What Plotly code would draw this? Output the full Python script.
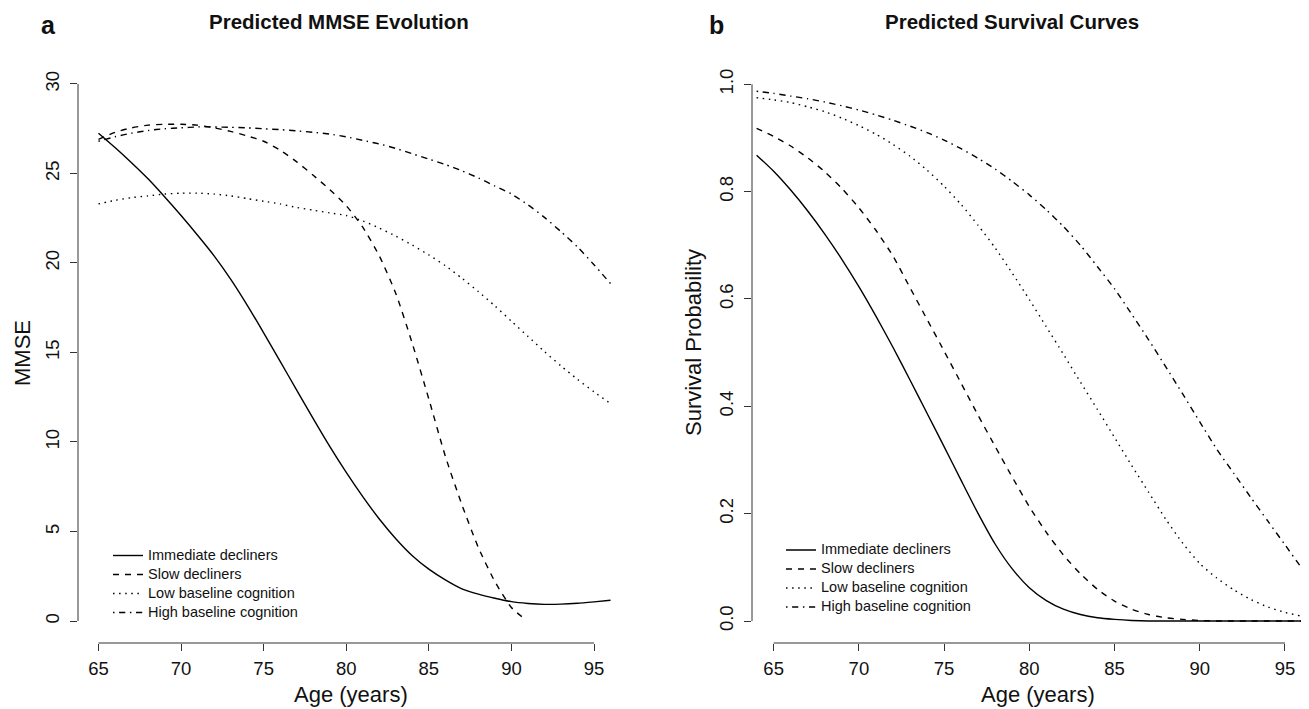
import plotly.graph_objects as go

# The page body has an 8px default margin, so the figure is 8px smaller than the window
OFF = 8
W, H = 1309 - OFF, 709 - OFF
FONT = "Liberation Sans, Arial, Helvetica, sans-serif"

# ---------------- data ----------------
groups = ["Immediate decliners", "Slow decliners", "Low baseline cognition", "High baseline cognition"]

# Panel a: predicted MMSE by age
age_a = list(range(65, 97))
age_a_slow = list(range(65, 91)) + [90.8]
mmse_immediate = [27.25, 26.45, 25.6, 24.7, 23.7, 22.65, 21.55, 20.4, 19.1, 17.65, 16.1, 14.5, 12.9,
                  11.3, 9.75, 8.3, 6.95, 5.7, 4.6, 3.65, 2.9, 2.3, 1.8, 1.5, 1.27, 1.08, 0.98, 0.93,
                  0.94, 0.99, 1.07, 1.16]
mmse_slow = [26.9, 27.3, 27.55, 27.7, 27.75, 27.75, 27.7, 27.55, 27.35, 27.1, 26.8, 26.3, 25.65,
             24.9, 24.1, 23.2, 22.0, 20.4, 18.3, 15.5, 12.4, 9.2, 6.5, 4.1, 2.2, 0.75, 0.12]
mmse_low = [23.3, 23.5, 23.65, 23.75, 23.85, 23.9, 23.9, 23.85, 23.75, 23.6, 23.45, 23.3, 23.1,
            22.95, 22.8, 22.65, 22.35, 21.95, 21.5, 21.0, 20.45, 19.85, 19.15, 18.4, 17.6, 16.75,
            15.9, 15.05, 14.25, 13.5, 12.8, 12.15]
mmse_high = [26.8, 27.05, 27.25, 27.4, 27.5, 27.55, 27.6, 27.6, 27.58, 27.55, 27.5, 27.45, 27.38,
             27.3, 27.2, 27.05, 26.85, 26.65, 26.4, 26.1, 25.8, 25.5, 25.15, 24.75, 24.3, 23.85,
             23.25, 22.55, 21.75, 20.9, 19.9, 18.85]

# Panel b: predicted survival probability by age
age_b = list(range(64, 98))
surv_immediate = [0.868, 0.838, 0.803, 0.764, 0.721, 0.674, 0.623, 0.568, 0.51, 0.449, 0.387, 0.325,
                  0.262, 0.2, 0.143, 0.097, 0.062, 0.038, 0.022, 0.012, 0.006, 0.003, 0.001,
                  0, 0, 0, 0, 0, 0, 0, 0, 0, 0, 0]
surv_slow = [0.918, 0.903, 0.885, 0.863, 0.837, 0.806, 0.77, 0.728, 0.68, 0.621, 0.562, 0.503,
             0.443, 0.383, 0.325, 0.268, 0.213, 0.165, 0.123, 0.088, 0.059, 0.037, 0.022, 0.012,
             0.006, 0.003, 0.001, 0, 0, 0, 0, 0, 0, 0]
surv_low = [0.975, 0.971, 0.966, 0.958, 0.949, 0.937, 0.923, 0.907, 0.888, 0.866, 0.84, 0.81,
            0.776, 0.737, 0.695, 0.648, 0.599, 0.548, 0.497, 0.445, 0.394, 0.342, 0.29, 0.24,
            0.19, 0.145, 0.107, 0.08, 0.058, 0.04, 0.026, 0.016, 0.009, 0.005]
surv_high = [0.987, 0.983, 0.978, 0.973, 0.967, 0.96, 0.952, 0.943, 0.933, 0.922, 0.91, 0.896,
             0.88, 0.862, 0.842, 0.819, 0.794, 0.766, 0.735, 0.70, 0.66, 0.619, 0.572, 0.524,
             0.474, 0.423, 0.371, 0.32, 0.275, 0.23, 0.186, 0.142, 0.098, 0.06]

x_ticks = [65, 70, 75, 80, 85, 90, 95]
y_ticks_a = [0, 5, 10, 15, 20, 25, 30]
y_ticks_b = [0.0, 0.2, 0.4, 0.6, 0.8, 1.0]

# ---------------- styling ----------------
dashes = ["solid", "6px,6px", "1.5px,4.6px", "1.5px,4.6px,6.2px,4.6px"]
LW = 1.4
LEG_TEXT = 14.5


def px_x(p):
    """window pixel x -> paper fraction"""
    return (p - OFF) / W


def px_y(p):
    """window pixel y (from top) -> paper fraction"""
    return (H + OFF - p) / H


def leg_name(s):
    return f'<span style="font-size:{LEG_TEXT}px">{s}</span>'


fig = go.Figure()

series_a = [(age_a, mmse_immediate), (age_a_slow, mmse_slow), (age_a, mmse_low), (age_a, mmse_high)]
series_b = [(age_b, surv_immediate), (age_b, surv_slow), (age_b, surv_low), (age_b, surv_high)]

for i, (xs, ys) in enumerate(series_a):
    fig.add_trace(go.Scatter(x=xs, y=ys, mode="lines", name=leg_name(groups[i]),
                             line=dict(color="black", width=LW, dash=dashes[i], shape="spline", smoothing=0.6),
                             xaxis="x", yaxis="y", legend="legend", showlegend=True))
for i, (xs, ys) in enumerate(series_b):
    fig.add_trace(go.Scatter(x=xs, y=ys, mode="lines", name=leg_name(groups[i]),
                             line=dict(color="black", width=LW, dash=dashes[i], shape="spline", smoothing=0.6),
                             xaxis="x2", yaxis="y2", legend="legend2", showlegend=True))

axis_common = dict(showgrid=False, zeroline=False, showline=False, ticks="outside", ticklen=7,
                   tickwidth=1, tickcolor="#333", tickfont=dict(family=FONT, size=18.5, color="#111"))

y_dom = [px_y(643), px_y(62.5)]

legend_common = dict(xanchor="left", yanchor="middle", bgcolor="rgba(0,0,0,0)", borderwidth=0,
                     font=dict(family=FONT, size=11, color="#111"), tracegroupgap=0)

fig.update_layout(
    width=W, height=H, autosize=False,
    margin=dict(l=0, r=0, t=0, b=0),
    paper_bgcolor="white", plot_bgcolor="white",
    font=dict(family=FONT, color="#111"),
    xaxis=dict(domain=[px_x(78), px_x(631)], range=[63.76, 97.24], tickvals=x_ticks,
               anchor="y", ticklabelstandoff=2, **axis_common),
    yaxis=dict(domain=y_dom, range=[-1.229, 31.2], tickvals=y_ticks_a, anchor="x",
               tickangle=-90, ticklabelstandoff=4, **axis_common),
    xaxis2=dict(domain=[px_x(752), 1.0], range=[63.73, 96.41], tickvals=x_ticks,
                anchor="y2", ticklabelstandoff=2, **axis_common),
    yaxis2=dict(domain=y_dom, range=[-0.041, 1.0406], tickvals=y_ticks_b, tickformat=".1f",
                anchor="x2", tickangle=-90, ticklabelstandoff=4, **axis_common),
    legend=dict(x=px_x(108), y=px_y(584), **legend_common),
    legend2=dict(x=px_x(781), y=px_y(578.5), **legend_common),
    showlegend=True,
)

# axis lines spanning first to last tick (R style)
line_style = dict(color="#333", width=1)
fig.add_shape(type="line", xref="x", yref="y domain", x0=x_ticks[0], x1=x_ticks[-1], y0=0, y1=0, line=line_style)
fig.add_shape(type="line", xref="x domain", yref="y", x0=0, x1=0, y0=y_ticks_a[0], y1=y_ticks_a[-1], line=line_style)
fig.add_shape(type="line", xref="x2", yref="y2 domain", x0=x_ticks[0], x1=x_ticks[-1], y0=0, y1=0, line=line_style)
fig.add_shape(type="line", xref="x2 domain", yref="y2", x0=0, x1=0, y0=y_ticks_b[0], y1=y_ticks_b[-1], line=line_style)


def ann(text, x, y, size, bold=False, angle=0):
    fig.add_annotation(text=f"<b>{text}</b>" if bold else text, xref="paper", yref="paper",
                       x=px_x(x), y=px_y(y), xanchor="center", yanchor="middle", showarrow=False,
                       textangle=angle, font=dict(family=FONT, size=size, color="#111"))


ann("a", 48.5, 25, 25, bold=True)
ann("b", 716, 25, 25, bold=True)
ann("Predicted MMSE Evolution", 339, 22, 20.5, bold=True)
ann("Predicted Survival Curves", 1012, 22, 20.5, bold=True)
ann("Age (years)", 351, 694.5, 22)
ann("Age (years)", 1038, 694.5, 22)
ann("MMSE", 22, 353, 22, angle=-90)
ann("Survival Probability", 693, 343, 22, angle=-90)

fig.write_html("out.html")
